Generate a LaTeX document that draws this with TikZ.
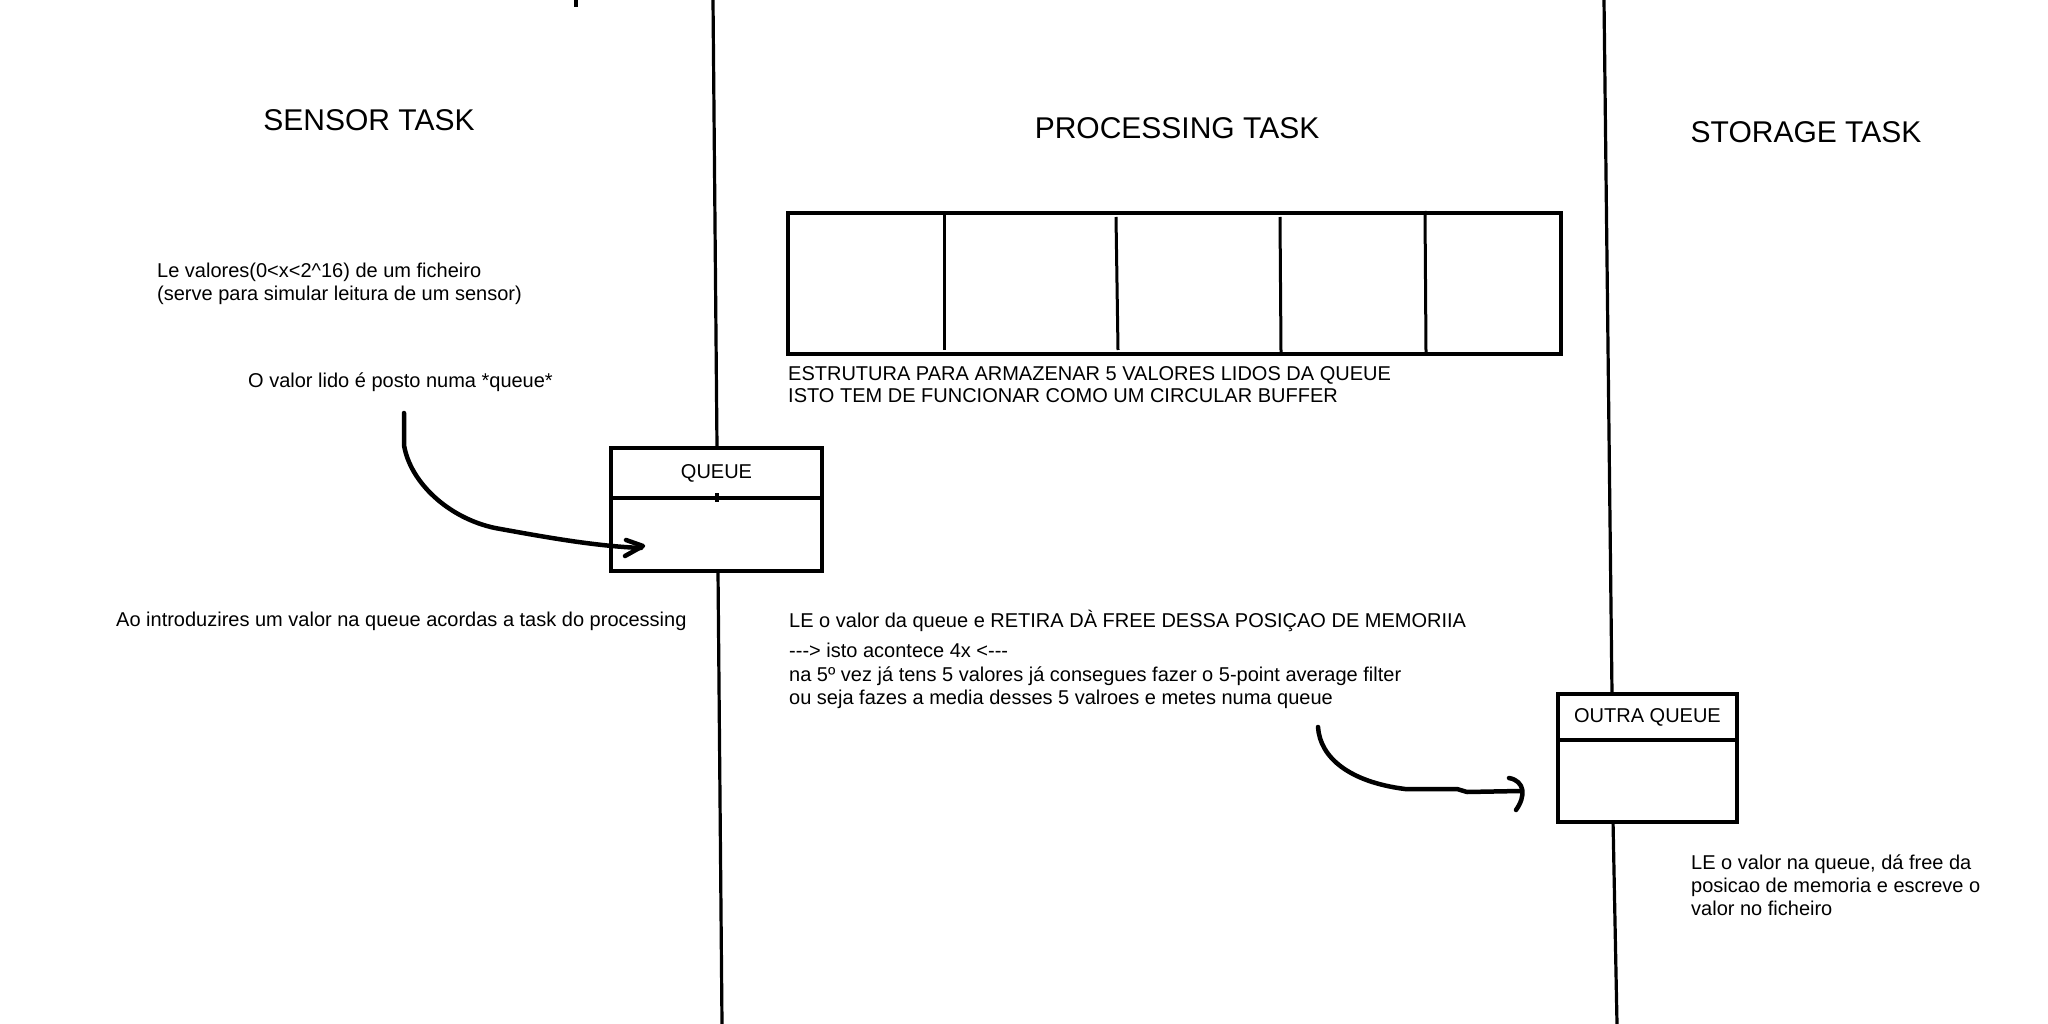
\documentclass[tikz,border=0pt]{standalone}
\usepackage{fontspec}
\setmainfont{Liberation Sans}
\begin{document}
\begin{tikzpicture}[x=1pt,y=-1pt,
  txt/.style={font=\fontsize{20}{23}\selectfont, inner sep=0pt, anchor=base west},
  ttl/.style={font=\fontsize{30}{36}\selectfont, inner sep=0pt, anchor=base},
  box/.style={draw, line width=4pt, fill=white, inner sep=0pt, font=\fontsize{20}{23}\selectfont},
  vline/.style={line width=3.2pt},
  divline/.style={line width=3pt},
  curve/.style={line width=4.5pt, line cap=round, line join=round}
]
\useasboundingbox[fill=white] (0,0) rectangle (2048,1024);

% titles
\node[ttl] (tsensor) at (369,131) {SENSOR TASK};
\node[ttl] (tproc) at (1177,139) {PROCESSING TASK};
\node[ttl] (tstor) at (1806,143) {STORAGE TASK};

% sensor texts
\node[txt] (s1a) at (157,278) {Le valores(0<x<2\textasciicircum 16) de um ficheiro};
\node[txt] (s1b) at (157,301) {(serve para simular leitura de um sensor)};
\node[txt] (s2) at (248,387) {O valor lido é posto numa *queue*};
\node[txt] (s3) at (116,626) {Ao introduzires um valor na queue acordas a task do processing};

% processing texts
\node[txt] (p1a) at (788,380) {ESTRUTURA PARA ARMAZENAR 5 VALORES LIDOS DA QUEUE};
\node[txt] (p1b) at (788,402) {ISTO TEM DE FUNCIONAR COMO UM CIRCULAR BUFFER};
\node[txt] (p2a) at (789,627) {LE o valor da queue e RETIRA DÀ FREE DESSA POSIÇAO DE MEMORIIA};
\node[txt] (p2b) at (789,657) {-\kern0pt-\kern0pt-> isto acontece 4x <-\kern0pt-\kern0pt-};
\node[txt] (p2c) at (789,681) {na 5º vez já tens 5 valores já consegues fazer o 5-point average filter};
\node[txt] (p2d) at (789,704) {ou seja fazes a media desses 5 valroes e metes numa queue};

% storage texts
\node[txt] (r1a) at (1691,869) {LE o valor na queue, dá free da};
\node[txt] (r1b) at (1691,892) {posicao de memoria e escreve o};
\node[txt] (r1c) at (1691,915) {valor no ficheiro};

% boundary coordinates
\coordinate (v1top) at (713,0);
\coordinate (v1bot) at (722,1024);
\coordinate (v2top) at (1604,0);
\coordinate (v2bot) at (1617,1024);
\coordinate (tk1) at (576,0);
\coordinate (tk2) at (576,7);

% vertical separators
\draw[vline] (v1top) -- (717,448);
\draw[vline] (718,571) -- (v1bot);
\draw[vline] (v2top) -- (1612,694);
\draw[vline] (1613,820) -- (v2bot);
\draw[line width=4pt] (tk1) -- (tk2);

% queue boxes
\node[box, minimum width=211, minimum height=50] (q1head) at (716.5,473) {QUEUE};
\node[box, minimum width=211, minimum height=73] (q1body) at (716.5,534.5) {};
\draw[vline] (717,493) -- (717,502);

\node[box, minimum width=179, minimum height=46] (q2head) at (1647.5,717) {OUTRA QUEUE};
\node[box, minimum width=179, minimum height=82] (q2body) at (1647.5,781) {};

% buffer
\node[box, minimum width=773, minimum height=141] (buf) at (1174.5,283.5) {};
\draw[divline] (944,215) -- (944,350);
\draw[divline] (1116,217) -- (1118,350);
\draw[divline] (1280,217) -- (1281,352);
\draw[divline] (1425,211) -- (1426,352);

% curved arrow 1
\coordinate (c1s) at (404,413);
\coordinate (c1e) at (641,548);
\draw[curve] (c1s) -- (404,445) .. controls (410,482) and (448,518) .. (495,528)
  .. controls (550,538) and (595,546) .. (c1e);
\draw[curve] (626,540) -- (643,546) -- (625,556);

% curved arrow 2
\coordinate (c2s) at (1318,727);
\coordinate (c2e) at (1520,791);
\draw[curve] (c2s) .. controls (1320,758) and (1350,782) .. (1405,789)
  -- (1457,789) -- (1467,792) -- (c2e);
\draw[curve] (1509,778) .. controls (1525,781) and (1526,796) .. (1516,810);
\end{tikzpicture}
\end{document}
